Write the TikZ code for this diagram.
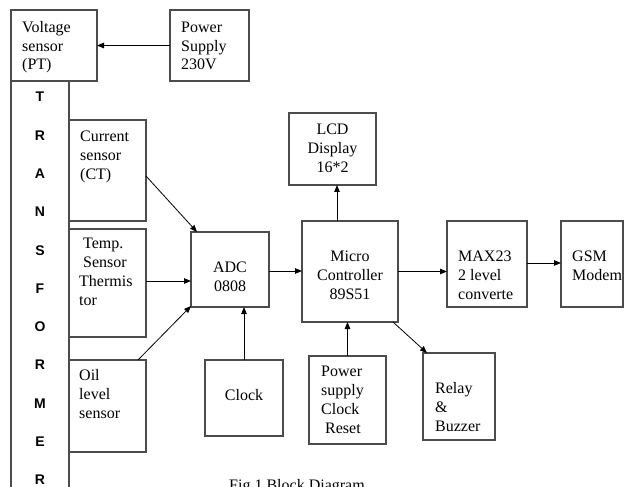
\documentclass[tikz,border=0pt]{standalone}
\usepackage{fontspec}
\setmainfont{Liberation Serif}
\newfontfamily\trafofont{Liberation Sans}
\usetikzlibrary{arrows.meta}

\begin{document}
\begin{tikzpicture}[
    x=1pt, y=-1pt,
    blok/.style={rectangle, draw=black!70, line width=1.2pt,
      inner sep=0pt, outer sep=0pt},
    pijl/.style={draw=black, line width=0.8pt,
      -{Triangle[length=7pt,width=5.5pt]}},
    tekst/.style={anchor=base west, inner sep=0pt, align=left},
    midden/.style={anchor=base, inner sep=0pt, align=center},
    letter/.style={inner sep=0pt, font=\trafofont\bfseries\fontsize{14}{14}\selectfont}
  ]
  \fontsize{16}{18.7}\selectfont
  \useasboundingbox (0,0) rectangle (625,487);

  % boxes
  \path (54,45.5) node(vsens) [blok, minimum width=86pt, minimum height=71pt] {}
  (209.5,45.5) node(psup) [blok, minimum width=79pt, minimum height=71pt] {}
  (40,290.5) node(trafo) [blok, minimum width=58pt, minimum height=419pt] {}
  (107.5,170.5) node(csens) [blok, minimum width=77pt, minimum height=101pt] {}
  (107.5,283) node(tsens) [blok, minimum width=77pt, minimum height=108pt] {}
  (107.5,406) node(oil) [blok, minimum width=77pt, minimum height=92pt] {}
  (230,269.5) node(adc) [blok, minimum width=78pt, minimum height=75pt] {}
  (244,398) node(clk) [blok, minimum width=78pt, minimum height=76pt] {}
  (332.5,149) node(lcd) [blok, minimum width=87pt, minimum height=72pt] {}
  (350,271.5) node(mcu) [blok, minimum width=96pt, minimum height=101pt] {}
  (347.5,400) node(pscr) [blok, minimum width=77pt, minimum height=88pt] {}
  (459,396.5) node(relay) [blok, minimum width=72pt, minimum height=87pt] {}
  (487,264) node(max) [blok, minimum width=80pt, minimum height=86pt] {}
  (592,264) node(gsm) [blok, minimum width=62pt, minimum height=86pt] {};

  % texts (base = last line)
  \path (22,70) node(vsenst) [tekst] {Voltage\\sensor\\(PT)}
  (181,70) node(psupt) [tekst] {Power\\Supply\\230V}
  (80,179) node(csenst) [tekst] {Current\\sensor\\(CT)}
  (79,305) node(tsenst) [tekst] {\hspace*{4pt}Temp.\\\hspace*{4pt}Sensor\\Thermis\\tor}
  (79,418) node(oilt) [tekst] {Oil\\level\\sensor}
  (230,291) node(adct) [midden] {ADC\\0808}
  (244,400) node(clkt) [midden] {Clock}
  (332.5,172) node(lcdt) [midden] {LCD\\Display\\16*2}
  (350,299) node(mcut) [midden] {Micro\\Controller\\89S51}
  (321,433) node(pscrt) [tekst] {Power\\supply\\Clock\\\hspace*{4pt}Reset}
  (435,431) node(relayt) [tekst] {Relay\\\&\\Buzzer}
  (458,299) node(maxt) [tekst] {MAX23\\2 level\\converte}
  (572,280) node(gsmt) [tekst] {GSM\\Modem}
  (297,490.5) node(caption) [midden] {Fig 1 Block Diagram};

  \foreach \l [count=\i from 0] in {T,R,A,N,S,F,O,R,M,E,R}
    \path (40,97+38.3*\i) node(tr\i) [letter] {\l};

  % connections
  \draw[pijl] (psup.west) -- (vsens.east);
  \draw[pijl] ([yshift=-5.5pt]csens.east) -- ([xshift=6pt]adc.north west);
  \draw[pijl] ([yshift=2pt]tsens.east) -- ([yshift=2pt]tsens.east -| adc.west);
  \draw[pijl] ([xshift=-8pt]oil.north east) -- ([yshift=1pt]adc.south west);
  \draw[pijl] (clk.north) -- (clk.north |- adc.south);
  \draw[pijl] ([yshift=-1.5pt]adc.east) -- ([yshift=-1.5pt]adc.east -| mcu.west);
  \draw[pijl] ([xshift=-13pt]mcu.north) -- ([xshift=-13pt]mcu.north |- lcd.south);
  \draw[pijl] (mcu.east) -- (mcu.east -| max.west);
  \draw[pijl] ([yshift=1pt]max.east) -- ([yshift=1pt]max.east -| gsm.west);
  \draw[pijl] (pscr.north) -- (pscr.north |- mcu.south);
  \draw[pijl] ([xshift=-5pt]mcu.south east) -- ([xshift=4pt]relay.north west);
\end{tikzpicture}
\end{document}
